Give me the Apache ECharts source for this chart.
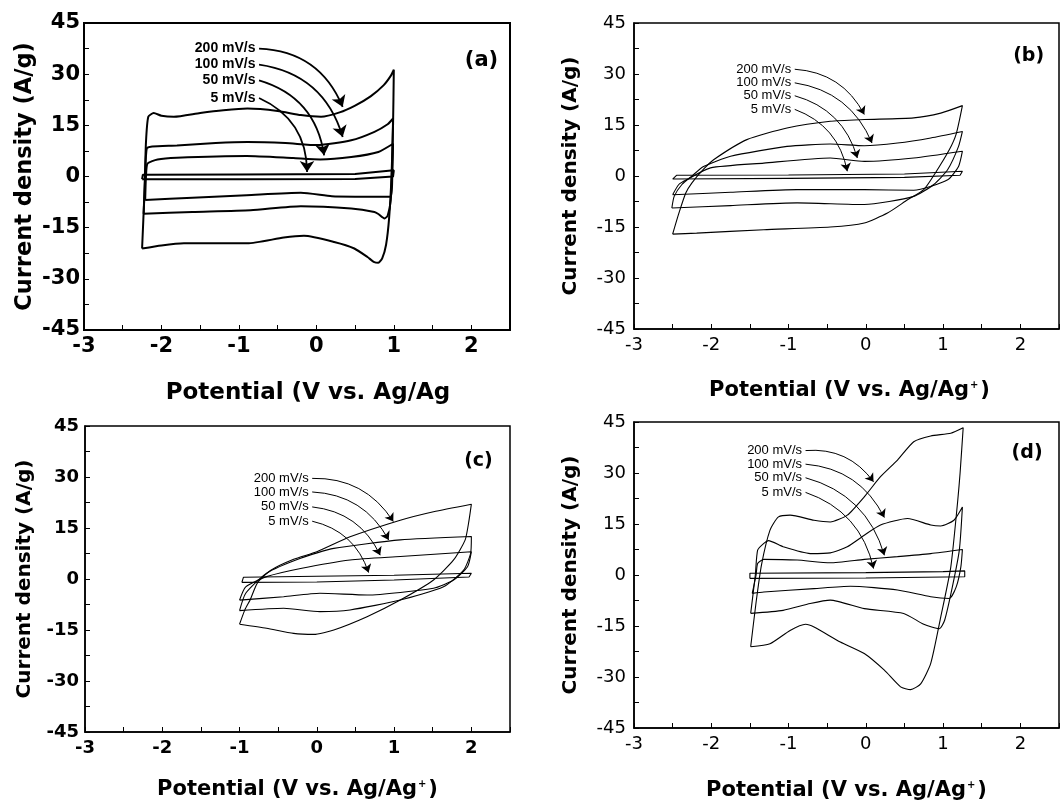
<!DOCTYPE html>
<html>
<head>
<meta charset="utf-8">
<title>CV curves at different scan rates</title>
<script src="https://cdn.jsdelivr.net/npm/echarts@6/dist/echarts.min.js"></script>
<style>
html, body { margin: 0; padding: 0; background: #fff; }
#chart { width: 1061px; height: 803px; }
</style>
</head>
<body>
<div id="chart"></div>
<script>
// scan rates, same order in every panel
const rates = ['200 mV/s', '100 mV/s', '50 mV/s', '5 mV/s'];
const tags = ['(a)', '(b)', '(c)', '(d)'];
const xTicks = [-3, -2, -1, 0, 1, 2];
const yTicks = [-45, -30, -15, 0, 15, 30, 45];

// panel (a)  [potential, current]
const a200 = [[-2.25,-21.1],[-2.22,-5],[-2.2,10],[-2.17,17.5],[-2.1,18.6],[-2.0,17.8],[-1.84,17.5],[-1.5,18.6],[-1.2,19.4],[-0.89,19.9],[-0.5,19.2],[-0.2,18],[0.06,17.5],[0.3,18.8],[0.5,20.8],[0.7,23.5],[0.87,26.8],[0.96,29.5],[1.0,31.3],
  [0.99,15],[0.97,0],[0.94,-12],[0.9,-20],[0.85,-24],[0.8,-25.3],[0.74,-25],[0.66,-23.6],[0.49,-21.1],[0.23,-19.2],[-0.16,-17.4],[-0.42,-17.9],[-0.89,-19.6],[-1.71,-19.6],[-2.0,-20.2],[-2.25,-21.1]];
const a100 = [[-2.23,-10.9],[-2.21,0],[-2.19,8.2],[-2.12,8.8],[-1.8,9.1],[-1.3,9.8],[-0.89,10.1],[-0.4,9.8],[0.01,9.2],[0.45,10.6],[0.75,13.1],[0.92,15.3],[0.99,17],
  [0.98,5],[0.96,-7],[0.92,-11.5],[0.88,-12.3],[0.8,-11],[0.75,-10.4],[0.45,-9.4],[-0.2,-8.7],[-0.85,-9.9],[-1.6,-10.4],[-2.23,-10.9]];
const a50 = [[-2.21,-6.9],[-2.2,0],[-2.18,3.8],[-2.05,5],[-1.8,5.5],[-0.9,6],[-0.3,5.4],[0.05,5],[0.45,5.7],[0.8,7.2],[0.99,9.6],
  [0.98,0],[0.96,-5.9],[0.5,-5.9],[0.2,-5.8],[-0.2,-4.8],[-0.9,-5.5],[-1.6,-6.2],[-2.21,-6.9]];
const a5 = [[-2.25,-0.8],[-2.24,0.5],[-1.0,0.6],[0.5,0.7],[1.0,1.8],[0.99,0],[0.5,-0.7],[-1.0,-0.8],[-2.25,-0.8]];

// panel (b)
const b200 = [[-2.5,-17.1],[-2.42,-11],[-2.33,-5],[-2.25,-2],[-2.1,2],[-1.97,4.8],[-1.54,10.7],[-1.02,14.1],[-0.46,16.1],[-0.02,16.6],[0.62,17.1],[0.97,18.5],[1.25,20.7],
  [1.17,12.4],[1.08,7.7],[0.9,0.9],[0.75,-4],[0.54,-7],[0.28,-10.9],[-0.02,-13.8],[-0.46,-15],[-1.32,-15.8],[-2.19,-16.8],[-2.5,-17.1]];
const b100 = [[-2.51,-9.4],[-2.48,-6],[-2.38,-2.5],[-2.25,0],[-2.1,2.8],[-1.75,5.8],[-1.02,8.7],[-0.46,9.4],[-0.02,8.9],[0.41,9.7],[0.84,11.2],[1.25,13.1],
  [1.2,8.7],[1.06,1.9],[0.88,-2.5],[0.62,-6],[-0.02,-8.4],[-0.89,-7.9],[-1.75,-8.7],[-2.51,-9.4]];
const b50 = [[-2.5,-5.5],[-2.42,-2.5],[-2.32,-1.1],[-2.01,2.4],[-1.32,3.8],[-0.46,5.3],[-0.02,4.3],[0.62,5.3],[1.25,7.3],
  [1.2,2.8],[1.06,-1.1],[0.62,-4.2],[-0.02,-4],[-0.89,-4],[-1.75,-4.8],[-2.5,-5.5]];
const b5 = [[-2.5,-0.9],[-2.45,0.2],[-1.0,0.3],[0.5,0.6],[1.25,1.4],[1.22,0.2],[0.5,-0.4],[-1.0,-0.7],[-2.5,-0.9]];

// panel (c)
const c200 = [[-1.0,-13.3],[-0.93,-9],[-0.86,-6],[-0.77,-1.2],[-0.6,2.5],[-0.3,5.8],[0,8],[0.43,12.4],[1.08,17.3],[1.51,19.8],[2.0,22],
  [1.97,17.3],[1.92,11.5],[1.77,5.6],[1.51,-0.3],[1.08,-6.2],[0.65,-11.1],[0.22,-15],[-0.04,-16.3],[-0.3,-16],[-0.65,-14.5],[-1.0,-13.3]];
const c100 = [[-1.0,-9.3],[-0.92,-4.2],[-0.65,1.7],[-0.21,6.1],[0.22,9],[1.08,11.5],[2.0,12.5],
  [1.99,7.5],[1.9,2.6],[1.64,-2.3],[1.08,-6.2],[0.43,-9.1],[0.04,-9.6],[-0.43,-8.6],[-1.0,-9.3]];
const c50 = [[-1.0,-6.2],[-0.92,-2.3],[-0.65,0.7],[-0.21,3.1],[0.43,5.6],[1.08,6.6],[2.0,8],
  [1.95,3.6],[1.77,-0.3],[1.51,-2.7],[0.65,-4.7],[0.04,-4.2],[-0.43,-5.2],[-1.0,-6.2]];
const c5 = [[-0.97,-1.0],[-0.95,0.5],[0,0.8],[1.0,1.1],[2.0,1.7],[1.97,0.6],[1.0,-0.3],[0,-0.9],[-0.97,-1.0]];

// panel (d)
const d200 = [[-1.49,-21.1],[-1.42,-8],[-1.35,3],[-1.24,13.2],[-1.13,17.1],[-0.98,17.6],[-0.67,16.1],[-0.46,15.6],[-0.24,17.6],[-0.02,23],[0.19,28.9],[0.41,33.8],[0.62,39.2],[0.84,40.9],[1.1,41.7],[1.26,43.3],
  [1.22,30],[1.19,22],[1.1,2.4],[0.97,-12.3],[0.84,-26],[0.71,-32],[0.58,-33.7],[0.45,-32.9],[0.24,-28],[-0.02,-23.1],[-0.33,-19.7],[-0.67,-15.3],[-0.78,-14.5],[-0.98,-16.3],[-1.24,-20.2],[-1.49,-21.1]];
const d100 = [[-1.49,-11.3],[-1.43,0],[-1.4,7.3],[-1.32,9.3],[-1.26,10.1],[-1.07,8.3],[-0.72,6.3],[-0.46,6.5],[-0.24,8.3],[-0.02,11.7],[0.19,14.7],[0.54,16.6],[0.84,14.7],[0.97,14.4],[1.14,16.1],[1.25,20],
  [1.21,7.3],[1.12,-3.5],[1.02,-13.3],[0.95,-15.8],[0.75,-14.5],[0.49,-11.3],[-0.02,-9.9],[-0.46,-7.4],[-0.72,-8.4],[-1.07,-10.4],[-1.49,-11.3]];
const d50 = [[-1.47,-5.4],[-1.42,0],[-1.4,3.4],[-1.32,4.6],[-0.89,4.4],[-0.46,3.6],[-0.02,4.6],[0.41,5.4],[0.84,6.3],[1.25,7.5],
  [1.23,2.4],[1.17,-3.5],[1.08,-6.9],[0.84,-6.4],[0.41,-4.4],[-0.2,-3.3],[-0.67,-4],[-1.32,-5],[-1.47,-5.4]];
const d5 = [[-1.5,-1.0],[-1.5,0.5],[0,0.7],[1.0,1.0],[1.28,1.2],[1.28,-0.5],[0,-0.9],[-1.5,-1.0]];

// where each rate label sits (arrow tail) and where its arrow points
const aNote = [[-0.74,37.5],[-0.74,32.8],[-0.74,28.2],[-0.74,23.0]];
const aTip = [[0.34,20.4],[0.34,11.6],[0.1,6.2],[-0.12,1.3]];
const bNote = [[-0.92,31.4],[-0.92,27.4],[-0.92,23.6],[-0.92,19.6]];
const bTip = [[-0.02,18.1],[0.08,9.7],[-0.11,5.3],[-0.24,1.4]];
const cNote = [[-0.06,29.6],[-0.06,25.6],[-0.06,21.2],[-0.06,17.0]];
const cTip = [[0.99,16.9],[0.93,11.5],[0.82,7],[0.67,1.9]];
const dNote = [[-0.78,36.6],[-0.78,32.6],[-0.78,28.6],[-0.78,24.3]];
const dTip = [[0.1,27.4],[0.24,16.9],[0.24,5.8],[0.1,1.9]];
// left edge of the panel letters
const tagPos = [[1.91,34],[1.9,35.2],[1.9,34.6],[1.88,35.8]];

const DV = "'DejaVu Sans', sans-serif";
const LS = "'Liberation Sans', Arial, sans-serif";

const panels = [
  { curves: [a200, a100, a50, a5], note: aNote, tip: aTip,
    grid: { left: 84, top: 23, width: 426, height: 307 },
    tick: { fontSize: 21, fontWeight: 'bold' }, ym: 4, xm: 6,
    noteFont: { fontSize: 14, fontWeight: 'bold' },
    lw: 2, aw: 1.8, head: 11, curv: 0.32, frame: 2,
    xName: '{t|Potential (V vs. Ag/Ag}', xPad: [0, 0, 0, 22], xGap: 52, yGap: 47, xSize: 23, ySize: 22.5 },
  { curves: [b200, b100, b50, b5], note: bNote, tip: bTip,
    grid: { left: 634, top: 23, width: 425, height: 306 },
    tick: { fontSize: 18, fontWeight: 'normal' }, ym: 8, xm: 7,
    noteFont: { fontSize: 13, fontWeight: 'normal' },
    lw: 1.1, aw: 1, head: 8, curv: 0.28, frame: 1.5,
    xName: '{t|Potential (V vs. Ag/Ag}{s|+}{t|)}', xPad: [0, 0, 0, 6], xGap: 51, yGap: 53, xSize: 21, ySize: 20 },
  { curves: [c200, c100, c50, c5], note: cNote, tip: cTip,
    grid: { left: 85, top: 426, width: 425, height: 306 },
    tick: { fontSize: 18, fontWeight: 'bold' }, ym: 6, xm: 7,
    noteFont: { fontSize: 13, fontWeight: 'normal' },
    lw: 1.1, aw: 1, head: 8, curv: 0.28, frame: 1.5,
    xName: '{t|Potential (V vs. Ag/Ag}{s|+}{t|)}', xPad: 0, xGap: 47, yGap: 50, xSize: 21, ySize: 20 },
  { curves: [d200, d100, d50, d5], note: dNote, tip: dTip,
    grid: { left: 634, top: 422, width: 425, height: 306 },
    tick: { fontSize: 18, fontWeight: 'normal' }, ym: 8, xm: 7,
    noteFont: { fontSize: 13, fontWeight: 'normal' },
    lw: 1.1, aw: 1, head: 8, curv: 0.28, frame: 1.5,
    xName: '{t|Potential (V vs. Ag/Ag}{s|+}{t|)}', xPad: 0, xGap: 52, yGap: 53, xSize: 21, ySize: 20 }
];

const grid = [], xAxis = [], yAxis = [], series = [];
const hidden = { color: 'rgba(0,0,0,0)', opacity: 1 };

panels.forEach(function (p, i) {
  grid.push(Object.assign({ show: true, borderColor: '#000', borderWidth: p.frame, backgroundColor: 'transparent' }, p.grid));

  const axisCommon = {
    gridIndex: i,
    type: 'value',
    splitLine: { show: false },
    axisLine: { show: true, onZero: false, lineStyle: { color: '#000', width: p.frame } },
    axisTick: { show: true, inside: true, length: 5, lineStyle: { color: '#000', width: 1 } },
    nameLocation: 'middle'
  };

  xAxis.push(Object.assign({}, axisCommon, {
    min: -3, max: 2.5, interval: 0.5,
    axisLabel: Object.assign({ customValues: xTicks, color: '#000', fontFamily: DV, margin: p.xm }, p.tick),
    name: p.xName,
    nameGap: p.xGap,
    nameTextStyle: {
      padding: p.xPad,
      rich: {
        t: { fontFamily: DV, fontWeight: 'bold', fontSize: p.xSize, color: '#000' },
        s: { fontFamily: DV, fontWeight: 'bold', fontSize: 10, color: '#000', verticalAlign: 'top', padding: [0, 2, 0, 1] }
      }
    }
  }));

  yAxis.push(Object.assign({}, axisCommon, {
    min: -45, max: 45, interval: 7.5,
    axisLabel: Object.assign({ customValues: yTicks, color: '#000', fontFamily: DV, margin: p.ym }, p.tick),
    name: 'Current density (A/g)',
    nameGap: p.yGap,
    nameTextStyle: { fontFamily: DV, fontWeight: 'bold', fontSize: p.ySize, color: '#000' }
  }));

  p.curves.forEach(function (c, k) {
    series.push({
      type: 'line', name: tags[i] + ' ' + rates[k],
      xAxisIndex: i, yAxisIndex: i,
      data: c, showSymbol: false, symbol: 'none',
      smooth: k === 3 ? false : 0.2,
      lineStyle: { color: '#000', width: p.lw },
      silent: true
    });
  });

  // rate labels
  series.push({
    type: 'scatter', xAxisIndex: i, yAxisIndex: i,
    symbolSize: 1, itemStyle: hidden, silent: true,
    data: p.note.map(function (pt, k) { return { value: pt, name: rates[k] }; }),
    label: Object.assign({ show: true, position: 'left', distance: 3, formatter: '{b}', color: '#000', opacity: 1, fontFamily: LS }, p.noteFont)
  });

  // curved arrows from each label to its curve
  series.push({
    type: 'lines', coordinateSystem: 'cartesian2d', xAxisIndex: i, yAxisIndex: i,
    silent: true,
    symbol: ['none', 'arrow'], symbolSize: p.head,
    lineStyle: { color: '#000', width: p.aw, type: 'solid', curveness: p.curv, opacity: 1 },
    data: p.note.map(function (pt, k) { return { coords: [pt, p.tip[k]] }; })
  });

  // panel tag
  series.push({
    type: 'scatter', xAxisIndex: i, yAxisIndex: i,
    symbolSize: 1, itemStyle: hidden, silent: true,
    data: [{ value: tagPos[i], name: tags[i] }],
    label: { show: true, position: 'right', distance: 0, formatter: '{b}', color: '#000', opacity: 1, fontFamily: DV, fontWeight: 'bold', fontSize: i === 0 ? 21 : 19 }
  });
});

const myChart = echarts.init(document.getElementById('chart'));
myChart.setOption({
  backgroundColor: '#fff',
  animation: false,
  grid: grid,
  xAxis: xAxis,
  yAxis: yAxis,
  series: series
});
</script>
</body>
</html>
